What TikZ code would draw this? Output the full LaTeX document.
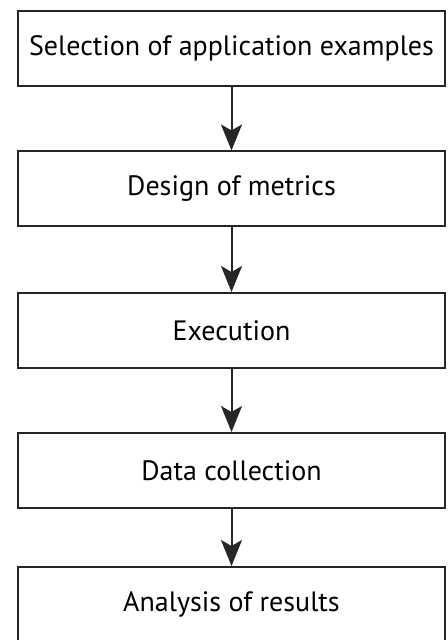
\documentclass[tikz,border=0pt]{standalone}
\usepackage{fontspec}
\setmainfont{PT Sans}
\usetikzlibrary{arrows.meta}
\tikzset{
  stepbox/.style={draw=black!85, line width=1pt, minimum width=213.5pt, minimum height=37.5pt, inner sep=0pt, font=\fontsize{14}{16}\selectfont},
  flow/.style={draw=black!85, line width=1pt, -{Stealth[length=13pt, width=10.5pt, inset=3pt]}}
}
\begin{document}
\begin{tikzpicture}[x=1pt, y=1pt]
  \useasboundingbox (0,0) rectangle (223.5,-320);
  \node[stepbox] (sel) at (115.75,-24.25) {Selection of application examples};
  \node[stepbox] (design) at (115.75,-94.5) {Design of metrics};
  \node[stepbox] (exec) at (115.75,-165.25) {Execution};
  \node[stepbox] (data) at (115.75,-235.25) {Data collection};
  \node[stepbox] (analysis) at (115.75,-302.25) {Analysis of results};
  \draw[flow] (sel) -- (design);
  \draw[flow] (design) -- (exec);
  \draw[flow] (exec) -- (data);
  \draw[flow] (data) -- (analysis);
\end{tikzpicture}
\end{document}
